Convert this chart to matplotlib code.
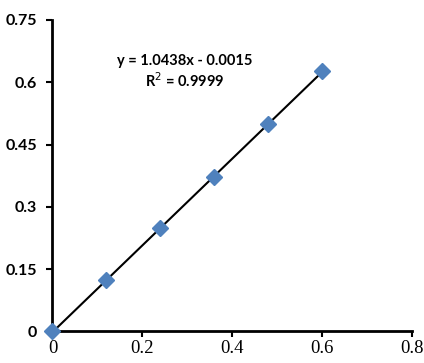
import numpy as np
import matplotlib.pyplot as plt

# data
conc = [0, 0.12, 0.24, 0.36, 0.48, 0.6]
absorb = [0, 0.123, 0.248, 0.372, 0.5, 0.626]
slope = 1.0438
intercept = -0.0015
r2 = 0.9999

xticks = [0, 0.2, 0.4, 0.6, 0.8]
xticklabels = ['0', '0.2', '0.4', '0.6', '0.8']
yticks = [0, 0.15, 0.3, 0.45, 0.6, 0.75]
yticklabels = ['0', '0.15', '0.3', '0.45', '0.6', '0.75']

fig = plt.figure(figsize=(4.24, 3.63), dpi=100)
ax = fig.add_axes([0.1238, 0.0868, 0.8479, 0.8582])

xfit = np.array([conc[0], conc[-1]])
ax.plot(xfit, slope * xfit + intercept, color='black', lw=1.5, zorder=2)
ax.plot(conc, absorb, ls='none', marker='D', ms=8.5, color='#4F81BD',
        mec='#4F81BD', zorder=3, clip_on=False)

for s in ['top', 'right']:
    ax.spines[s].set_visible(False)
for s in ['left', 'bottom']:
    ax.spines[s].set_linewidth(2)

ax.set_xlim(0, 0.8)
ax.set_ylim(0, 0.75)
ax.set_xticks(xticks, xticklabels)
ax.set_yticks(yticks, yticklabels)
ax.tick_params(axis='y', direction='out', length=4, width=1.5, pad=7,
               labelsize=11.5, labelfontfamily='Lato')
ax.tick_params(axis='x', direction='out', length=4, width=1.5, pad=2,
               labelsize=13.5, labelfontfamily='Liberation Serif')

fig.canvas.draw()
for lab in ax.get_yticklabels():
    lab.set_fontweight('bold')

eq = 'y = %.4fx - %.4f' % (slope, abs(intercept))
ax.text(0.295, 0.651, eq, ha='center', va='center', family='Lato',
        fontsize=10.5, fontweight='bold')
ax.text(0.295, 0.605, 'R$^2$ = %.4f' % r2, ha='center', va='center',
        family='Lato', fontsize=10.5, fontweight='bold')

fig.savefig('out.png', dpi=100)
